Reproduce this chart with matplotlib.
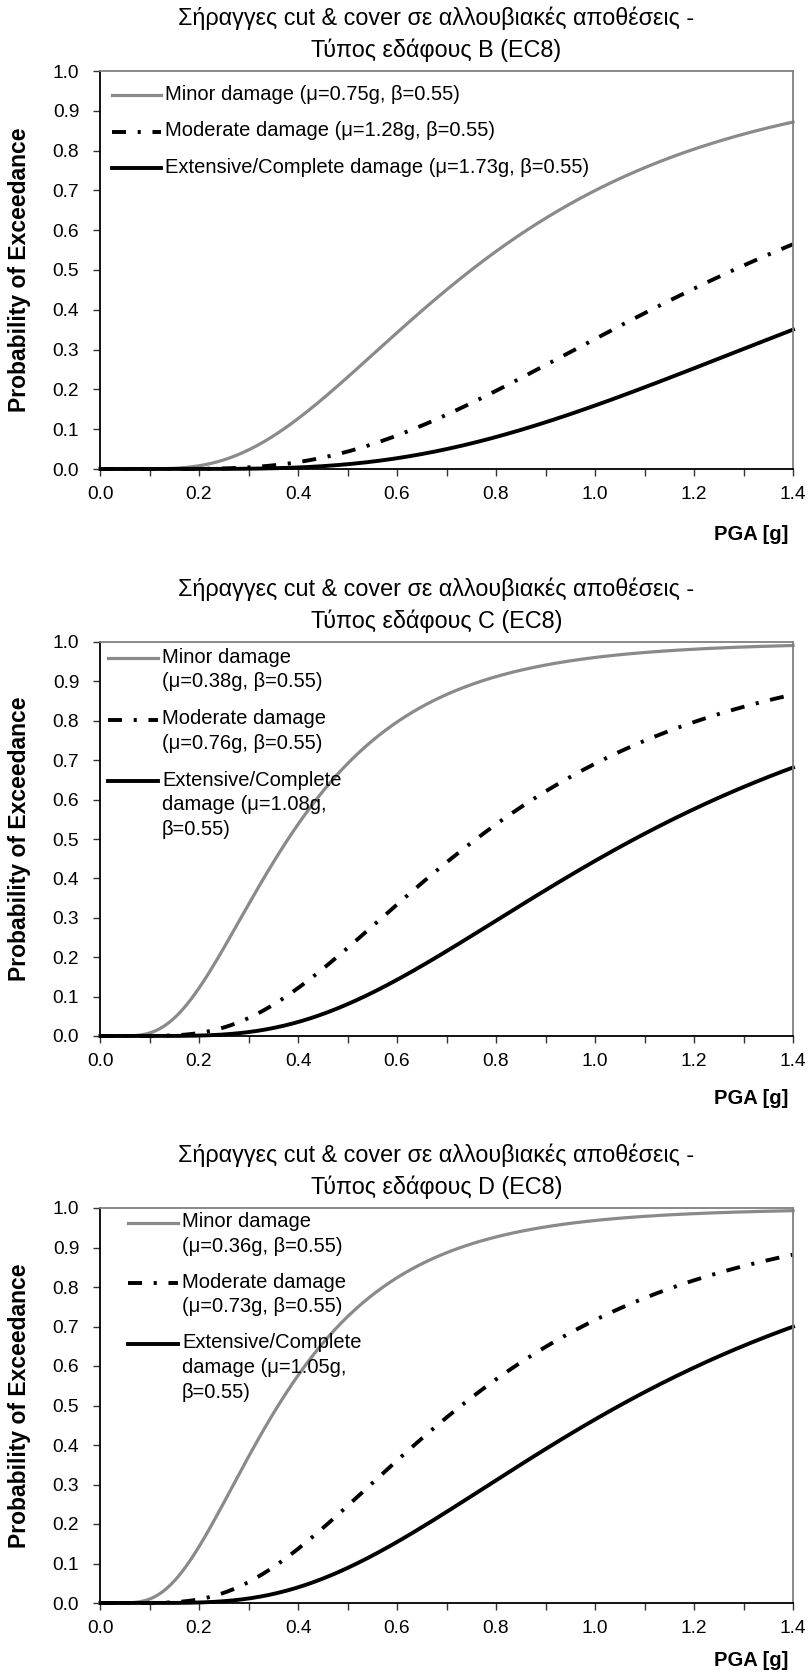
import math
import numpy as np
import matplotlib
matplotlib.use("Agg")
import matplotlib.pyplot as plt
import matplotlib.lines as mlines

plt.rcParams['font.family'] = ['Liberation Sans', 'DejaVu Sans']

# fragility parameters (median PGA in g, lognormal std) per EC8 soil class
soil_classes = ['B', 'C', 'D']
mu_minor = [0.75, 0.38, 0.36]
mu_moderate = [1.28, 0.76, 0.73]
mu_extensive = [1.73, 1.08, 1.05]
beta = 0.55

# legend text, wrapped per panel
legend_labels = [
    ['Minor damage (μ=0.75g, β=0.55)',
     'Moderate damage (μ=1.28g, β=0.55)',
     'Extensive/Complete damage (μ=1.73g, β=0.55)'],
    ['Minor damage\n(μ=0.38g, β=0.55)',
     'Moderate damage\n(μ=0.76g, β=0.55)',
     'Extensive/Complete\ndamage (μ=1.08g,\nβ=0.55)'],
    ['Minor damage\n(μ=0.36g, β=0.55)',
     'Moderate damage\n(μ=0.73g, β=0.55)',
     'Extensive/Complete\ndamage (μ=1.05g,\nβ=0.55)'],
]

pga = np.linspace(0.001, 1.4, 400)


def lognormal_cdf(x, m, b):
    z = np.log(x / m) / b
    return np.array([0.5 * (1.0 + math.erf(v / math.sqrt(2.0))) for v in z])


styles = [
    dict(color='#8a8a8a', lw=2.3, linestyle='-'),
    dict(color='black', lw=2.8, linestyle=(0, (3.6, 3.0, 0.8, 3.0))),
    dict(color='black', lw=2.8, linestyle='-'),
]

W, H = 809, 1677
fig = plt.figure(figsize=(W / 100, H / 100), dpi=100)

# axes boxes in pixels: (top, bottom)
boxes = [(71, 469), (642, 1036), (1208, 1603)]
left_px, right_px = 100, 793
# legend layout in px: handle start, text start, first row offset, row gap
leg_x = [112, 108, 128]
leg_tx = [165, 162, 182]
leg_y0 = [24, 16, 14.5]
leg_gap = [36.5, 61.5, 60.5]
# distance of the x-axis title below each frame
xlab_off = [66, 63, 58]

fs_tick = 13.8
fs_leg = 14.5
fs_title = 16.8
em_leg = fs_leg * 100 / 72
em_title = fs_title * 100 / 72

for i, soil in enumerate(soil_classes):
    top, bot = boxes[i]
    hpx = bot - top
    wpx = right_px - left_px
    ax = fig.add_axes([left_px / W, 1 - bot / H, wpx / W, hpx / H])
    mus = [mu_minor[i], mu_moderate[i], mu_extensive[i]]
    for j, m in enumerate(mus):
        ax.plot(pga, lognormal_cdf(pga, m, beta), clip_on=False, **styles[j])

    ax.set_xlim(0, 1.4)
    ax.set_ylim(0, 1.0)
    ax.set_xticks(np.arange(0, 1.41, 0.2))
    ax.set_xticks(np.arange(0, 1.41, 0.1), minor=True)
    ax.set_yticks(np.arange(0, 1.01, 0.1))
    ax.xaxis.set_major_formatter(plt.FormatStrFormatter('%.1f'))
    ax.yaxis.set_major_formatter(plt.FormatStrFormatter('%.1f'))
    ax.tick_params(axis='both', which='both', direction='out', length=5,
                   width=1, color='#333333', labelsize=fs_tick)
    ax.tick_params(axis='x', pad=7)
    ax.tick_params(axis='y', pad=10)
    for s in ['top', 'right']:
        ax.spines[s].set_color('#808080')
        ax.spines[s].set_linewidth(1.3)
    for s in ['left', 'bottom']:
        ax.spines[s].set_color('black')
        ax.spines[s].set_linewidth(1.3)

    # two-line title, first row centred 52 px above the frame
    title_top = 52 + 0.52 * em_title
    ax.text((436.5 - left_px) / wpx, 1 + title_top / hpx,
            'Σήραγγες cut & cover σε αλλουβιακές αποθέσεις -\n'
            'Τύπος εδάφους %s (EC8)' % soil,
            transform=ax.transAxes, ha='center', va='top',
            multialignment='center', fontsize=fs_title, linespacing=1.45)

    ax.set_ylabel('Probability of Exceedance', fontsize=16.5, fontweight='bold')
    ax.yaxis.label.set_va('center')
    ax.yaxis.set_label_coords((20 - left_px) / wpx, 0.5)
    ax.set_xlabel('PGA [g]', fontsize=14.5, fontweight='bold', loc='right')
    ax.xaxis.label.set_va('center')
    ax.xaxis.set_label_coords((788 - left_px) / wpx, -xlab_off[i] / hpx)

    # legend drawn by hand so the line sits beside the first text row
    for j in range(3):
        ypx = leg_y0[i] + j * leg_gap[i]
        yax = 1 - ypx / hpx
        x0 = (leg_x[i] - left_px) / wpx
        x1 = (leg_tx[i] - 4 - left_px) / wpx
        ln = mlines.Line2D([x0, x1], [yax, yax], transform=ax.transAxes, **styles[j])
        ax.add_artist(ln)
        ax.text((leg_tx[i] - left_px) / wpx, 1 - (ypx - 0.52 * em_leg) / hpx,
                legend_labels[i][j], transform=ax.transAxes, fontsize=fs_leg,
                va='top', ha='left', linespacing=1.39)

fig.savefig('out.png', dpi=100)
